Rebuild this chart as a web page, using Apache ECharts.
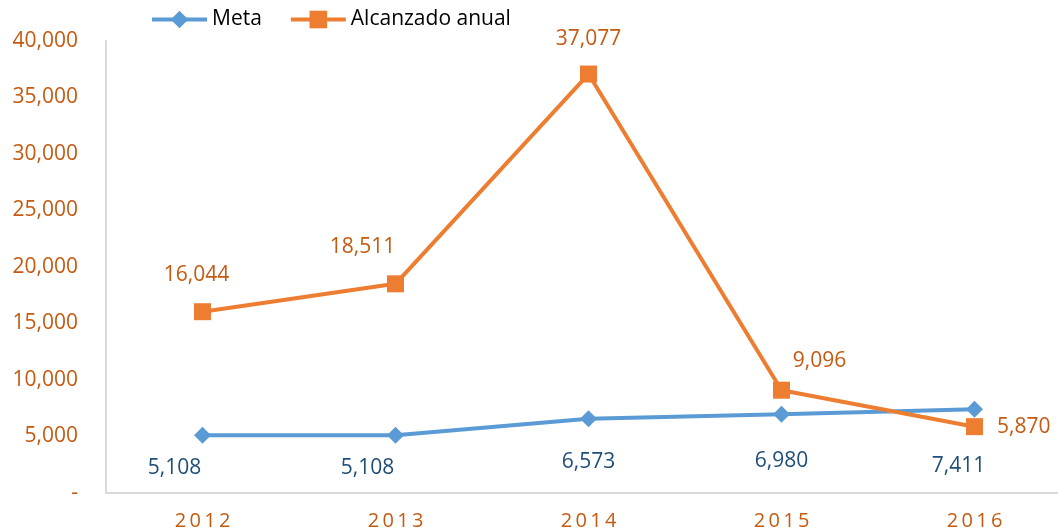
<!DOCTYPE html>
<html>
<head>
<meta charset="utf-8">
<script src="https://cdn.jsdelivr.net/npm/echarts@6/dist/echarts.min.js"></script>
<style>
  html, body { margin: 0; padding: 0; background: #fff; }
  #chart { width: 1058px; height: 531px; }
</style>
</head>
<body>
<div id="chart"></div>
<script>
var years = ['2012', '2013', '2014', '2015', '2016'];
var meta = [5108, 5108, 6573, 6980, 7411];
var alcanzado = [16044, 18511, 37077, 9096, 5870];
var yTicks = [0, 5000, 10000, 15000, 20000, 25000, 30000, 35000, 40000];

var font = '"Open Sans", "Liberation Sans", sans-serif';
var axisOrange = '#C55A11';
var blue = '#5B9BD5';
var orange = '#ED7D31';
var darkBlue = '#1F4E79';

function fmt(v) {
  return v === 0 ? '-' : v.toLocaleString('en-US');
}

// per-point label placement, like the Excel original
var alcLabelPos = [
  { position: 'top', offset: [-6, 0], distance: 18 },
  { position: 'top', offset: [-33, 0], distance: 18 },
  { position: 'top', distance: 16 },
  { position: 'top', offset: [38, 0], distance: 10 },
  { position: 'right', distance: 14 }
];
var metaLabelPos = [
  { offset: [-28, 0], distance: 14 },
  { offset: [-28, 0], distance: 14 },
  { offset: [0, 0], distance: 24 },
  { offset: [0, 0], distance: 28 },
  { offset: [-16, 0], distance: 38 }
];

var chart = echarts.init(document.getElementById('chart'), null, { renderer: 'canvas' });
chart.setOption({
  animation: false,
  textStyle: { fontFamily: font },
  legend: {
    top: 9,
    left: 150,
    padding: 0,
    itemWidth: 55,
    itemHeight: 22,
    itemGap: 27,
    lineStyle: { width: 4 },
    textStyle: { color: '#000', fontSize: 21, fontFamily: font },
    data: ['Meta', 'Alcanzado anual']
  },
  grid: { left: 106, top: 41, width: 965, bottom: 38, containLabel: false, outerBoundsMode: 'none' },
  xAxis: {
    type: 'category',
    data: years,
    boundaryGap: true,
    axisLine: { lineStyle: { color: '#D9D9D9', width: 2 } },
    axisTick: { show: false },
    axisLabel: {
      color: axisOrange,
      fontSize: 20,
      fontFamily: font,
      margin: 18,
      formatter: function(v) { return v.split('').join('\u2009'); }
    }
  },
  yAxis: {
    type: 'value',
    min: yTicks[0],
    max: yTicks[yTicks.length - 1],
    interval: 5000,
    axisLine: { show: true, lineStyle: { color: '#D9D9D9', width: 2 } },
    axisTick: { show: false },
    splitLine: { show: false },
    axisLabel: {
      color: axisOrange,
      fontSize: 21,
      fontFamily: font,
      margin: 28,
      formatter: fmt
    }
  },
  series: [
    {
      name: 'Meta',
      type: 'line',
      data: meta.map(function(v, i) {
        return { value: v, label: metaLabelPos[i] };
      }),
      symbol: 'diamond',
      symbolSize: 17,
      lineStyle: { color: blue, width: 4 },
      itemStyle: { color: blue },
      label: {
        show: true,
        position: 'bottom',
        color: darkBlue,
        fontSize: 21,
        fontFamily: font,
        formatter: function(p) { return fmt(p.value); }
      }
    },
    {
      name: 'Alcanzado anual',
      type: 'line',
      data: alcanzado.map(function(v, i) {
        return { value: v, label: alcLabelPos[i] };
      }),
      symbol: 'rect',
      symbolSize: 17,
      lineStyle: { color: orange, width: 4 },
      itemStyle: { color: orange },
      label: {
        show: true,
        color: axisOrange,
        fontSize: 21,
        fontFamily: font,
        formatter: function(p) { return fmt(p.value); }
      }
    }
  ]
});
window.addEventListener('resize', function() { chart.resize(); });
</script>
</body>
</html>
